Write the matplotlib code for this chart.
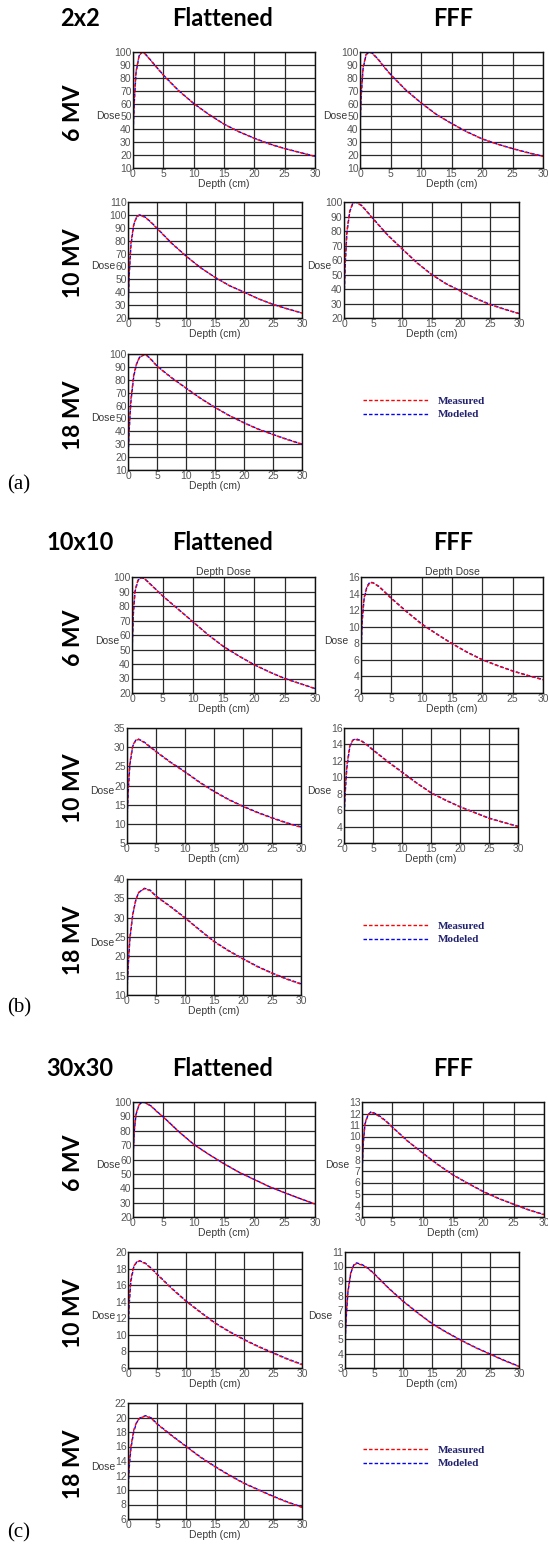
import numpy as np
import matplotlib
matplotlib.use("Agg")
import matplotlib.pyplot as plt

W, H = 548, 1548

depth = [0, 0.2, 0.5, 1.0, 1.5, 2, 3, 4, 5, 7.5, 10, 12.5, 15, 17.5, 20, 22.5, 25, 27.5, 30]

# (a) 2x2
a_6mv_flat_meas = [38, 62, 85, 97, 100, 98.5, 93, 87.5, 82, 70, 60, 51.5, 44, 38, 33, 28.5, 25, 22, 19]
a_6mv_flat_model = [35, 60, 84, 97, 100, 98.6, 93.2, 87.6, 82.2, 70.2, 60.1, 51.6, 44.1, 38.1, 33.1, 28.7, 25.1, 22.1, 19.1]
a_6mv_fff_meas = [45, 68, 88, 98, 100, 99, 94, 88, 82.5, 70.5, 60.5, 51.5, 44.5, 38, 32.5, 28.5, 25, 21.8, 19]
a_6mv_fff_model = [42, 66, 87, 98, 100, 99.2, 94.3, 88.3, 82.7, 70.6, 60.6, 51.7, 44.6, 38.2, 32.7, 28.6, 25.1, 22, 19.1]
a_10mv_flat_meas = [30, 55, 78, 93, 98.5, 100, 98, 94, 89.5, 78, 68, 59, 51.5, 45, 40, 34.8, 30.5, 27, 23.8]
a_10mv_flat_model = [27, 52, 76, 92.5, 98.5, 100, 98.2, 94.2, 89.7, 78.2, 68.1, 59.1, 51.6, 45.1, 40.1, 34.9, 30.6, 27.1, 23.9]
a_10mv_fff_meas = [35, 58, 80, 94, 99, 100, 97.5, 93, 88.3, 77, 67.5, 58, 50, 43.5, 38.5, 33.5, 29.3, 26, 23]
a_10mv_fff_model = [32, 56, 79, 93.5, 99, 100, 97.7, 93.2, 88.5, 77.2, 67.6, 58.2, 50.1, 43.7, 38.6, 33.7, 29.5, 26.1, 23.1]
a_18mv_flat_meas = [22, 42, 65, 84, 93, 97.5, 99.8, 95.5, 90.5, 81.5, 73.5, 65.5, 58.5, 52, 46.5, 41.5, 37.5, 33.5, 30]
a_18mv_flat_model = [19, 40, 63, 83, 92.5, 97.5, 100, 95.8, 90.7, 81.7, 73.6, 65.7, 58.6, 52.2, 46.7, 41.7, 37.6, 33.7, 30.1]

# (b) 10x10
b_6mv_flat_meas = [50, 75, 91, 98, 99.5, 99, 95, 91, 87, 78, 69, 60, 52, 45.5, 39.5, 34.5, 30, 26.5, 23]
b_6mv_flat_model = [47, 73, 90, 97.8, 99.5, 99.1, 95.2, 91.2, 87.1, 78.1, 69.1, 60.1, 52.1, 45.6, 39.6, 34.6, 30.1, 26.6, 23.1]
b_6mv_fff_meas = [7.5, 11, 13.5, 14.8, 15.3, 15.3, 14.8, 14.1, 13.4, 11.8, 10.3, 9.1, 7.95, 6.9, 6.0, 5.3, 4.65, 4.1, 3.6]
b_6mv_fff_model = [7.0, 10.6, 13.3, 14.9, 15.4, 15.3, 14.85, 14.15, 13.45, 11.85, 10.35, 9.12, 7.97, 6.93, 6.03, 5.32, 4.67, 4.12, 3.62]
b_10mv_flat_meas = [12, 19, 26, 30.5, 31.8, 32, 31.2, 30, 28.8, 26, 23.5, 20.8, 18.4, 16.3, 14.5, 12.9, 11.5, 10.2, 9.1]
b_10mv_flat_model = [11, 18, 25.5, 30.3, 31.8, 32.1, 31.3, 30.1, 28.9, 26.1, 23.6, 20.9, 18.5, 16.4, 14.6, 13.0, 11.6, 10.3, 9.2]
b_10mv_fff_meas = [5.5, 8.5, 11.5, 13.8, 14.5, 14.6, 14.4, 13.9, 13.3, 11.9, 10.6, 9.3, 8.1, 7.2, 6.4, 5.7, 5.0, 4.5, 4.0]
b_10mv_fff_model = [5.0, 8.0, 11.2, 13.7, 14.5, 14.7, 14.45, 13.95, 13.35, 11.95, 10.65, 9.33, 8.13, 7.23, 6.42, 5.72, 5.03, 4.52, 4.03]
b_18mv_flat_meas = [12, 18, 25, 31, 34.5, 36.5, 37.5, 37, 35.5, 32.8, 29.9, 26.8, 23.8, 21.4, 19.3, 17.3, 15.6, 14.1, 12.8]
b_18mv_flat_model = [11, 17, 24.5, 30.8, 34.4, 36.5, 37.6, 37.1, 35.6, 32.9, 30.0, 26.9, 23.9, 21.5, 19.4, 17.4, 15.7, 14.2, 12.9]

# (c) 30x30
c_6mv_flat_meas = [62, 80, 92, 98, 100, 99.5, 97, 93, 89.5, 79.5, 70.5, 63.5, 57, 51, 46, 41, 36.8, 32.8, 29]
c_6mv_flat_model = [60, 79, 91.5, 98, 100, 99.6, 97.2, 93.2, 89.6, 79.6, 70.6, 63.6, 57.1, 51.1, 46.1, 41.1, 36.9, 32.9, 29.1]
c_6mv_fff_meas = [7, 9.5, 11.2, 11.9, 12.1, 12.0, 11.7, 11.3, 10.8, 9.6, 8.55, 7.55, 6.65, 5.9, 5.2, 4.6, 4.1, 3.6, 3.2]
c_6mv_fff_model = [6.7, 9.3, 11.1, 11.9, 12.15, 12.05, 11.75, 11.33, 10.83, 9.62, 8.57, 7.57, 6.67, 5.92, 5.22, 4.62, 4.12, 3.62, 3.22]
c_10mv_flat_meas = [11, 14, 16.8, 18.3, 18.8, 18.9, 18.6, 18.0, 17.3, 15.6, 14.05, 12.7, 11.4, 10.35, 9.4, 8.55, 7.8, 7.05, 6.4]
c_10mv_flat_model = [10.5, 13.6, 16.5, 18.2, 18.8, 18.95, 18.65, 18.05, 17.35, 15.65, 14.1, 12.75, 11.45, 10.4, 9.45, 8.6, 7.85, 7.1, 6.45]
c_10mv_fff_meas = [4.8, 6.6, 8.3, 9.6, 10.1, 10.2, 10.1, 9.85, 9.5, 8.5, 7.6, 6.8, 6.05, 5.45, 4.9, 4.4, 3.95, 3.5, 3.1]
c_10mv_fff_model = [4.6, 6.4, 8.2, 9.55, 10.1, 10.25, 10.12, 9.87, 9.52, 8.52, 7.62, 6.82, 6.07, 5.47, 4.92, 4.42, 3.97, 3.52, 3.12]
c_18mv_flat_meas = [10.5, 13.5, 16, 18.3, 19.4, 19.9, 20.2, 19.9, 19.1, 17.5, 16, 14.5, 13.2, 12, 10.9, 10, 9.1, 8.3, 7.6]
c_18mv_flat_model = [10, 13, 15.7, 18.1, 19.3, 19.9, 20.25, 19.95, 19.15, 17.55, 16.05, 14.55, 13.25, 12.05, 10.95, 10.05, 9.15, 8.35, 7.65]

x_ticks = [0, 5, 10, 15, 20, 25, 30]
yt_10_100 = list(range(10, 101, 10))
yt_20_110 = list(range(20, 111, 10))
yt_20_100 = list(range(20, 101, 10))
yt_2_16 = list(range(2, 17, 2))
yt_5_35 = list(range(5, 36, 5))
yt_10_40 = list(range(10, 41, 5))
yt_3_13 = list(range(3, 14))
yt_6_20 = list(range(6, 21, 2))
yt_3_11 = list(range(3, 12))
yt_6_22 = list(range(6, 23, 2))

sections = ["2x2", "10x10", "30x30"]
energies = ["6 MV", "10 MV", "18 MV"]
panel_tags = ["(a)", "(b)", "(c)"]

# pixel layout (left, top, right, bottom)
row_tops = [[52, 202, 354], [577, 728, 879], [1102, 1252, 1403]]
row_bots = [[168, 318, 470], [693, 843, 995], [1217, 1368, 1519]]
flat_x = [[(133, 315), (128, 302), (128, 302)],
          [(132, 315), (127, 301), (127, 301)],
          [(133, 315), (128, 302), (128, 302)]]
fff_x = [[(360, 543), (344, 519)],
         [(361, 543), (344, 518)],
         [(362, 544), (345, 519)]]
header_y = [18, 543, 1068]
tag_y = [485, 1008, 1533]

flat_data = [
    [(a_6mv_flat_meas, a_6mv_flat_model, yt_10_100),
     (a_10mv_flat_meas, a_10mv_flat_model, yt_20_110),
     (a_18mv_flat_meas, a_18mv_flat_model, yt_10_100)],
    [(b_6mv_flat_meas, b_6mv_flat_model, yt_20_100),
     (b_10mv_flat_meas, b_10mv_flat_model, yt_5_35),
     (b_18mv_flat_meas, b_18mv_flat_model, yt_10_40)],
    [(c_6mv_flat_meas, c_6mv_flat_model, yt_20_100),
     (c_10mv_flat_meas, c_10mv_flat_model, yt_6_20),
     (c_18mv_flat_meas, c_18mv_flat_model, yt_6_22)],
]
fff_data = [
    [(a_6mv_fff_meas, a_6mv_fff_model, yt_10_100),
     (a_10mv_fff_meas, a_10mv_fff_model, yt_20_100)],
    [(b_6mv_fff_meas, b_6mv_fff_model, yt_2_16),
     (b_10mv_fff_meas, b_10mv_fff_model, yt_2_16)],
    [(c_6mv_fff_meas, c_6mv_fff_model, yt_3_13),
     (c_10mv_fff_meas, c_10mv_fff_model, yt_3_11)],
]

TICK_FONT = "Liberation Sans"
TXT = "#3a3a3a"

fig = plt.figure(figsize=(W / 100, H / 100), dpi=100)


def px_axes(l, t, r, b):
    return fig.add_axes([l / W, 1 - b / H, (r - l) / W, (b - t) / H])


def draw_panel(box, meas, model, yt, title=None):
    l, t, r, b = box
    ax = px_axes(l, t, r, b)
    hm, = ax.plot(depth, model, color="#0000ff", lw=1.0, dashes=(2.5, 1.5))
    hr, = ax.plot(depth, meas, color="#ff0000", lw=1.0, dashes=(2.5, 1.5), dash_capstyle="butt")
    ax.set_xlim(0, 30)
    ax.set_ylim(yt[0], yt[-1])
    ax.set_xticks(x_ticks)
    ax.set_yticks(yt)
    ax.grid(True, color="#2a2a2a", lw=0.9)
    ax.set_axisbelow(True)
    ax.tick_params(length=0, pad=1, labelsize=7.5, labelcolor="#555555")
    for lab in ax.get_xticklabels() + ax.get_yticklabels():
        lab.set_family(TICK_FONT)
    for s in ax.spines.values():
        s.set_color("#111111")
        s.set_linewidth(1.0)
    w, h = r - l, b - t
    ax.text(0.5, -16 / h, "Depth (cm)", transform=ax.transAxes, ha="center", va="center",
            family=TICK_FONT, fontsize=7.5, color=TXT)
    ax.text(-13 / w, 0.45, "Dose", transform=ax.transAxes, ha="right", va="center",
            family=TICK_FONT, fontsize=7.5, color=TXT)
    if title:
        ax.text(0.5, 1 + 5 / h, title, transform=ax.transAxes, ha="center", va="center",
                family=TICK_FONT, fontsize=7.5, color=TXT)
    return ax, hr, hm


for s in range(3):
    for r in range(3):
        meas, model, yt = flat_data[s][r]
        xl, xr = flat_x[s][r]
        title = "Depth Dose" if (s == 1 and r == 0) else None
        ax, hr, hm = draw_panel((xl, row_tops[s][r], xr, row_bots[s][r]), meas, model, yt, title)
        yc = (row_tops[s][r] + row_bots[s][r]) / 2 + 3
        fig.text(74 / W, 1 - yc / H, energies[r], rotation=90, ha="center", va="center",
                 family="Lato", weight="bold", fontsize=16.5, color="black")
        if r == 2:
            fig.legend([hr, hm], ["Measured", "Modeled"], loc="upper left",
                       bbox_to_anchor=(363 / W, 1 - (row_tops[s][r] + 42) / H),
                       frameon=False, borderpad=0, borderaxespad=0,
                       handlelength=5.9, handletextpad=0.8, labelspacing=0.35,
                       prop={"family": "Liberation Serif", "weight": "bold", "size": 8},
                       labelcolor="#22226e")
    for r in range(2):
        meas, model, yt = fff_data[s][r]
        xl, xr = fff_x[s][r]
        title = "Depth Dose" if (s == 1 and r == 0) else None
        draw_panel((xl, row_tops[s][r], xr, row_bots[s][r]), meas, model, yt, title)

    hy = 1 - header_y[s] / H
    fig.text(80 / W, hy, sections[s], ha="center", va="center", family="Lato", weight="bold", fontsize=17)
    fig.text(223 / W, hy, "Flattened", ha="center", va="center", family="Lato", weight="bold", fontsize=17)
    fig.text(453 / W, hy, "FFF", ha="center", va="center", family="Lato", weight="bold", fontsize=17)
    fig.text(19 / W, 1 - tag_y[s] / H, panel_tags[s], ha="center", va="center",
             family="Liberation Serif", fontsize=15)

fig.savefig("out.png", dpi=100)
